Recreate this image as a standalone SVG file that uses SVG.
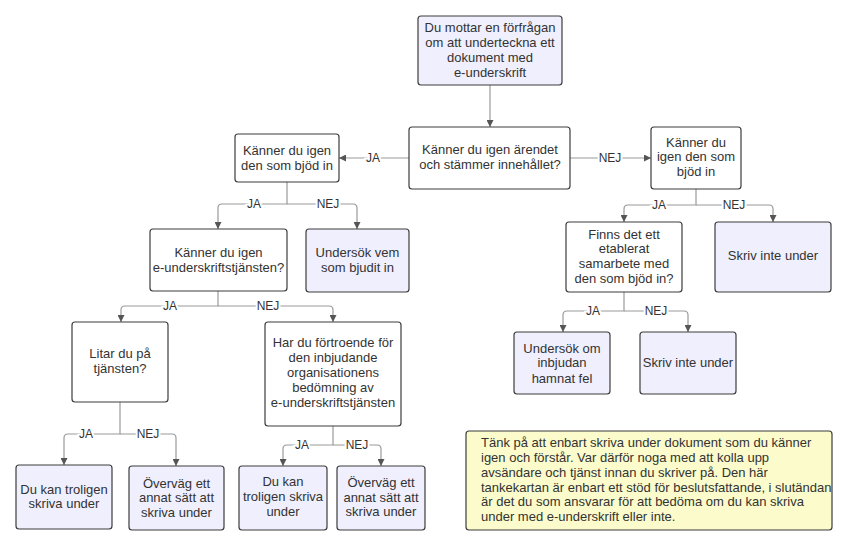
<svg xmlns="http://www.w3.org/2000/svg" width="848" height="546" viewBox="0 0 848 546">
<defs>
<marker id="ah" viewBox="0 0 10 10" refX="10" refY="5" markerWidth="7" markerHeight="7" markerUnits="userSpaceOnUse" orient="auto">
<path d="M0,0 L10,5 L0,10 z" fill="#555"/>
</marker>
<style>
.n{fill:#ffffff;stroke:#3c3c3c;stroke-width:1.2}
.f{fill:#efeffd;stroke:#3c3c3c;stroke-width:1.2}
.t{font-family:"Liberation Sans",Arial,sans-serif;font-size:13px;fill:#333;text-anchor:middle}
.c{fill:none;stroke:#9a9a9a;stroke-width:1.2}
.l{font-family:"Liberation Sans",Arial,sans-serif;font-size:12px;fill:#333;text-anchor:middle;stroke:#fff;stroke-width:4;paint-order:stroke}
.note{fill:#fbfbcb;stroke:#3c3c3c;stroke-width:1.2}
.nt{font-family:"Liberation Sans",Arial,sans-serif;font-size:13px;fill:#333}
</style>
</defs>
<rect width="848" height="546" fill="#fff"/>
<g id="connectors">
<path class="c" d="M490,85 V127" marker-end="url(#ah)"/>
<path class="c" d="M409,158 H339" marker-end="url(#ah)"/>
<path class="c" d="M570,158 H651" marker-end="url(#ah)"/>
<path class="c" d="M287,182 V204 H222 Q218,204 218,208 V229" marker-end="url(#ah)"/>
<path class="c" d="M287,204 H353 Q357,204 357,208 V229" marker-end="url(#ah)"/>
<path class="c" d="M696,189 V205 H628 Q624,205 624,209 V222" marker-end="url(#ah)"/>
<path class="c" d="M696,205 H769 Q773,205 773,209 V222" marker-end="url(#ah)"/>
<path class="c" d="M218,291 V306 H125 Q121,306 121,310 V322" marker-end="url(#ah)"/>
<path class="c" d="M218,306 H329 Q333,306 333,310 V322" marker-end="url(#ah)"/>
<path class="c" d="M120,402 V434 H68 Q64,434 64,438 V465" marker-end="url(#ah)"/>
<path class="c" d="M120,434 H172 Q176,434 176,438 V466" marker-end="url(#ah)"/>
<path class="c" d="M333,426 V445 H287 Q283,445 283,449 V466" marker-end="url(#ah)"/>
<path class="c" d="M333,445 H377 Q381,445 381,449 V466" marker-end="url(#ah)"/>
<path class="c" d="M624,292 V311 H567 Q563,311 563,315 V332" marker-end="url(#ah)"/>
<path class="c" d="M624,311 H684 Q688,311 688,315 V332" marker-end="url(#ah)"/>
<text class="l" x="373" y="162">JA</text>
<text class="l" x="610" y="162">NEJ</text>
<text class="l" x="254" y="208">JA</text>
<text class="l" x="328" y="208">NEJ</text>
<text class="l" x="659" y="209">JA</text>
<text class="l" x="734" y="209">NEJ</text>
<text class="l" x="170" y="310">JA</text>
<text class="l" x="268" y="310">NEJ</text>
<text class="l" x="86" y="438">JA</text>
<text class="l" x="148" y="438">NEJ</text>
<text class="l" x="302" y="449">JA</text>
<text class="l" x="357" y="449">NEJ</text>
<text class="l" x="593" y="315">JA</text>
<text class="l" x="656" y="315">NEJ</text>
</g>
<g id="n1"><rect class="f" x="418" y="16" width="144" height="69" rx="3"/>
<text class="t" x="490" y="32">Du mottar en förfrågan</text><text class="t" x="490" y="47">om att underteckna ett</text><text class="t" x="490" y="62">dokument med</text><text class="t" x="490" y="77">e-underskrift</text></g>
<g id="n2"><rect class="n" x="409" y="127" width="161" height="62" rx="3"/>
<text class="t" x="490" y="153.5">Känner du igen ärendet</text><text class="t" x="490" y="169">och stämmer innehållet?</text></g>
<g id="n3"><rect class="n" x="235" y="134" width="104" height="48" rx="3"/>
<text class="t" x="287" y="154.5">Känner du igen</text><text class="t" x="287" y="169.5">den som bjöd in</text></g>
<g id="n4"><rect class="n" x="651" y="127" width="90" height="62" rx="3"/>
<text class="t" x="696" y="146.5">Känner du</text><text class="t" x="696" y="161">igen den som</text><text class="t" x="696" y="175.5">bjöd in</text></g>
<g id="n5"><rect class="n" x="150" y="229" width="137" height="62" rx="3"/>
<text class="t" x="218.5" y="256.5">Känner du igen</text><text class="t" x="218.5" y="272">e-underskriftstjänsten?</text></g>
<g id="n6"><rect class="f" x="306" y="229" width="103" height="63" rx="3"/>
<text class="t" x="357.5" y="256.5">Undersök vem</text><text class="t" x="357.5" y="271.5">som bjudit in</text></g>
<g id="n7"><rect class="n" x="566" y="222" width="116" height="70" rx="3"/>
<text class="t" x="624" y="238.5">Finns det ett</text><text class="t" x="624" y="253">etablerat</text><text class="t" x="624" y="268">samarbete med</text><text class="t" x="624" y="283">den som bjöd in?</text></g>
<g id="n8"><rect class="f" x="715" y="222" width="116" height="70" rx="3"/>
<text class="t" x="773" y="259.5">Skriv inte under</text></g>
<g id="n9"><rect class="n" x="72" y="322" width="96" height="80" rx="3"/>
<text class="t" x="120" y="357.5">Litar du på</text><text class="t" x="120" y="373">tjänsten?</text></g>
<g id="n10"><rect class="n" x="265" y="322" width="136" height="104" rx="3"/>
<text class="t" x="333" y="346.5">Har du förtroende för</text><text class="t" x="333" y="361.5">den inbjudande</text><text class="t" x="333" y="376.5">organisationens</text><text class="t" x="333" y="391.5">bedömning av</text><text class="t" x="333" y="406.5">e-underskriftstjänsten</text></g>
<g id="n11"><rect class="f" x="16" y="465" width="96" height="64" rx="3"/>
<text class="t" x="64" y="493.5">Du kan troligen</text><text class="t" x="64" y="508">skriva under</text></g>
<g id="n12"><rect class="f" x="129" y="466" width="95" height="64" rx="3"/>
<text class="t" x="176.5" y="487.5">Överväg ett</text><text class="t" x="176.5" y="502">annat sätt att</text><text class="t" x="176.5" y="516.5">skriva under</text></g>
<g id="n13"><rect class="f" x="239" y="466" width="88" height="64" rx="3"/>
<text class="t" x="283" y="485.5">Du kan</text><text class="t" x="283" y="501">troligen skriva</text><text class="t" x="283" y="515.5">under</text></g>
<g id="n14"><rect class="f" x="337" y="466" width="88" height="64" rx="3"/>
<text class="t" x="381" y="486.5">Överväg ett</text><text class="t" x="381" y="501.5">annat sätt att</text><text class="t" x="381" y="515.5">skriva under</text></g>
<g id="n15"><rect class="f" x="514" y="332" width="96" height="62" rx="3"/>
<text class="t" x="562" y="352.5">Undersök om</text><text class="t" x="562" y="367">inbjudan</text><text class="t" x="562" y="382.5">hamnat fel</text></g>
<g id="n16"><rect class="f" x="640" y="332" width="96" height="62" rx="3"/>
<text class="t" x="688" y="366.5">Skriv inte under</text></g>
<g id="note"><rect class="note" x="466" y="431" width="366" height="99" rx="3"/>
<text class="nt" x="481" y="446.5">Tänk på att enbart skriva under dokument som du känner</text>
<text class="nt" x="481" y="461.5">igen och förstår. Var därför noga med att kolla upp</text>
<text class="nt" x="481" y="476.5">avsändare och tjänst innan du skriver på. Den här</text>
<text class="nt" x="481" y="491.5">tankekartan är enbart ett stöd för beslutsfattande, i slutändan</text>
<text class="nt" x="481" y="506">är det du som ansvarar för att bedöma om du kan skriva</text>
<text class="nt" x="481" y="521">under med e-underskrift eller inte.</text></g>
</svg>
